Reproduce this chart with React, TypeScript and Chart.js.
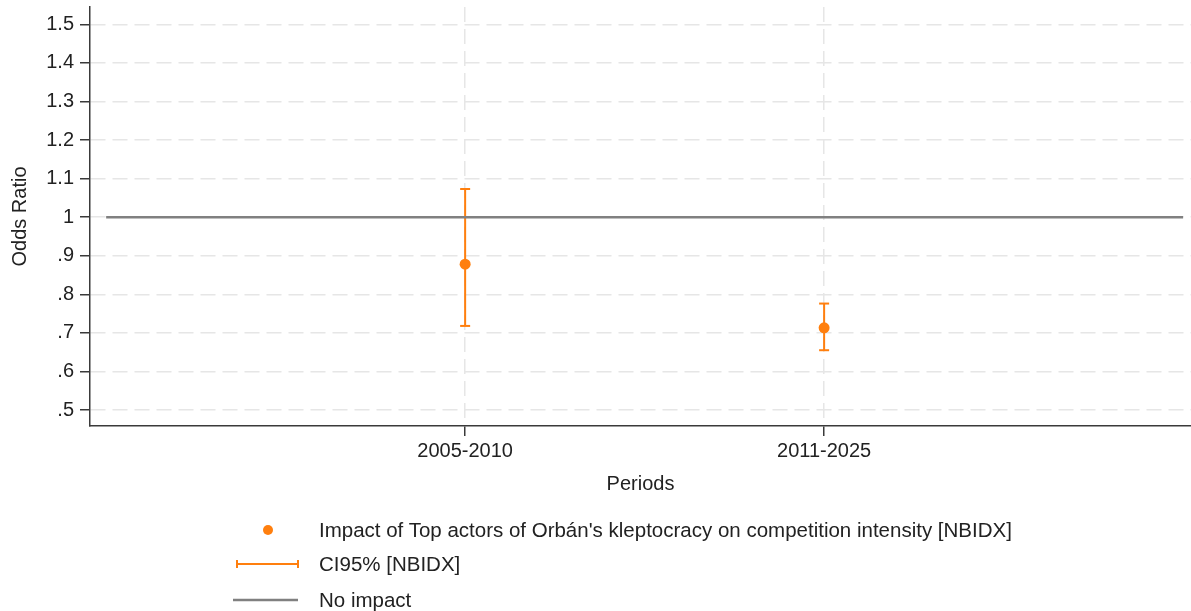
import React, { useEffect, useRef } from "react";
import { Chart, registerables } from "chart.js";

Chart.register(...registerables);

// ---- data ----
const periods = ["2005-2010", "2011-2025"];
const periodX = [1, 2];
const oddsRatio = [0.878, 0.713];
const ciLow = [0.718, 0.655];
const ciHigh = [1.073, 0.776];
const noImpactX = [0, 3];
const noImpactValue = 1;
const yTickValues = [0.5, 0.6, 0.7, 0.8, 0.9, 1.0, 1.1, 1.2, 1.3, 1.4, 1.5];
const yTickLabels = [".5", ".6", ".7", ".8", ".9", "1", "1.1", "1.2", "1.3", "1.4", "1.5"];
const legendLabels = [
  "Impact of Top actors of Orbán's kleptocracy on competition intensity [NBIDX]",
  "CI95% [NBIDX]",
  "No impact",
];

const ORANGE = "#ff7f0e";
const GRAY = "#808080";
const AXIS = "#3a3a3a";
const GRID = "#e6e6e6";
const FONT = "'Liberation Sans', Arial, sans-serif";

const zeroPad = (scale: any) => {
  scale.paddingTop = 0;
  scale.paddingBottom = 0;
  scale.paddingLeft = 0;
  scale.paddingRight = 0;
};

export default function App() {
  const canvasRef = useRef<HTMLCanvasElement | null>(null);

  useEffect(() => {
    document.body.style.margin = "0";
    const canvas = canvasRef.current;
    if (!canvas) return;
    Chart.defaults.font.family = FONT;
    Chart.defaults.color = "#222";

    const ciDatasets = periods.map((p, i) => ({
      type: "line" as const,
      label: "CI " + p,
      data: [
        { x: periodX[i], y: ciLow[i] },
        { x: periodX[i], y: ciHigh[i] },
      ],
      showLine: true,
      borderColor: ORANGE,
      borderWidth: 2,
      pointStyle: "line" as const,
      pointRadius: 5,
      pointBorderWidth: 2,
      pointBorderColor: ORANGE,
      pointBackgroundColor: ORANGE,
      order: 2,
    }));

    const chart = new Chart(canvas, {
      type: "scatter",
      data: {
        datasets: [
          ...ciDatasets,
          {
            type: "line",
            label: legendLabels[2],
            data: noImpactX.map((x) => ({ x, y: noImpactValue })),
            showLine: true,
            borderColor: GRAY,
            borderWidth: 2.5,
            pointRadius: 0,
            order: 1,
          },
          {
            type: "scatter",
            label: legendLabels[0],
            data: periodX.map((x, i) => ({ x, y: oddsRatio[i] })),
            pointRadius: 5.5,
            pointBackgroundColor: ORANGE,
            pointBorderColor: ORANGE,
            pointBorderWidth: 0,
            order: 0,
          },
        ],
      },
      options: {
        animation: false,
        responsive: false,
        maintainAspectRatio: false,
        layout: { autoPadding: false, padding: { top: 7, left: 0, right: 0, bottom: 113 } },
        plugins: {
          legend: { display: false },
          tooltip: { enabled: false },
        },
        scales: {
          x: {
            type: "linear",
            min: -0.045,
            max: 3.022,
            afterBuildTicks: (scale: any) => {
              scale.ticks = periodX.map((v) => ({ value: v }));
            },
            afterFit: (scale: any) => {
              scale.height = 72;
              zeroPad(scale);
            },
            ticks: {
              autoSkip: false,
              maxRotation: 0,
              padding: 3,
              color: "#222",
              font: { size: 20 },
              callback: (_v: any, i: number) => periods[i],
            },
            grid: {
              color: GRID,
              lineWidth: 1.5,
              tickColor: AXIS,
              tickWidth: 1.5,
              tickLength: 10,
              drawTicks: true,
            },
            border: { display: true, color: AXIS, width: 1.5, dash: [15, 7] },
            title: {
              display: true,
              text: "Periods",
              color: "#222",
              font: { size: 20 },
              padding: { top: 0, bottom: 2 },
            },
          },
          y: {
            type: "linear",
            min: 0.4585,
            max: 1.545,
            afterBuildTicks: (scale: any) => {
              scale.ticks = yTickValues.map((v) => ({ value: v }));
            },
            afterFit: (scale: any) => {
              scale.width = 90;
              zeroPad(scale);
            },
            ticks: {
              autoSkip: false,
              padding: 6,
              color: "#222",
              font: { size: 20 },
              callback: (_v: any, i: number) => yTickLabels[i],
            },
            grid: {
              color: GRID,
              lineWidth: 1.5,
              tickColor: AXIS,
              tickWidth: 1.5,
              tickLength: 10,
              drawTicks: true,
            },
            border: { display: true, color: AXIS, width: 1.5, dash: [15, 7] },
            title: {
              display: true,
              text: "Odds Ratio",
              color: "#222",
              font: { size: 20 },
              padding: { top: 8, bottom: 0 },
            },
          },
        },
      },
    } as any);

    return () => chart.destroy();
  }, []);

  const rowY = [530, 564, 600];
  const textStyle = (y: number): React.CSSProperties => ({
    position: "absolute",
    left: 319,
    top: y - 12,
    height: 24,
    lineHeight: "24px",
    fontSize: 20.5,
    fontFamily: FONT,
    color: "#222",
    whiteSpace: "nowrap",
  });

  return (
    <div style={{ position: "relative", width: 1191, height: 611, background: "#fff", overflow: "hidden" }}>
      <canvas ref={canvasRef} width={1191} height={611} style={{ display: "block", width: 1191, height: 611 }} />
      <svg width={1191} height={611} style={{ position: "absolute", left: 0, top: 0, pointerEvents: "none" }}>
        <circle cx={268} cy={rowY[0]} r={5} fill={ORANGE} />
        <line x1={237} y1={rowY[1]} x2={298} y2={rowY[1]} stroke={ORANGE} strokeWidth={2} />
        <line x1={237} y1={rowY[1] - 4} x2={237} y2={rowY[1] + 4} stroke={ORANGE} strokeWidth={2} />
        <line x1={298} y1={rowY[1] - 4} x2={298} y2={rowY[1] + 4} stroke={ORANGE} strokeWidth={2} />
        <line x1={233} y1={rowY[2]} x2={298} y2={rowY[2]} stroke={GRAY} strokeWidth={2.5} />
      </svg>
      {legendLabels.map((t, i) => (
        <div key={i} style={textStyle(rowY[i])}>
          {t}
        </div>
      ))}
    </div>
  );
}
